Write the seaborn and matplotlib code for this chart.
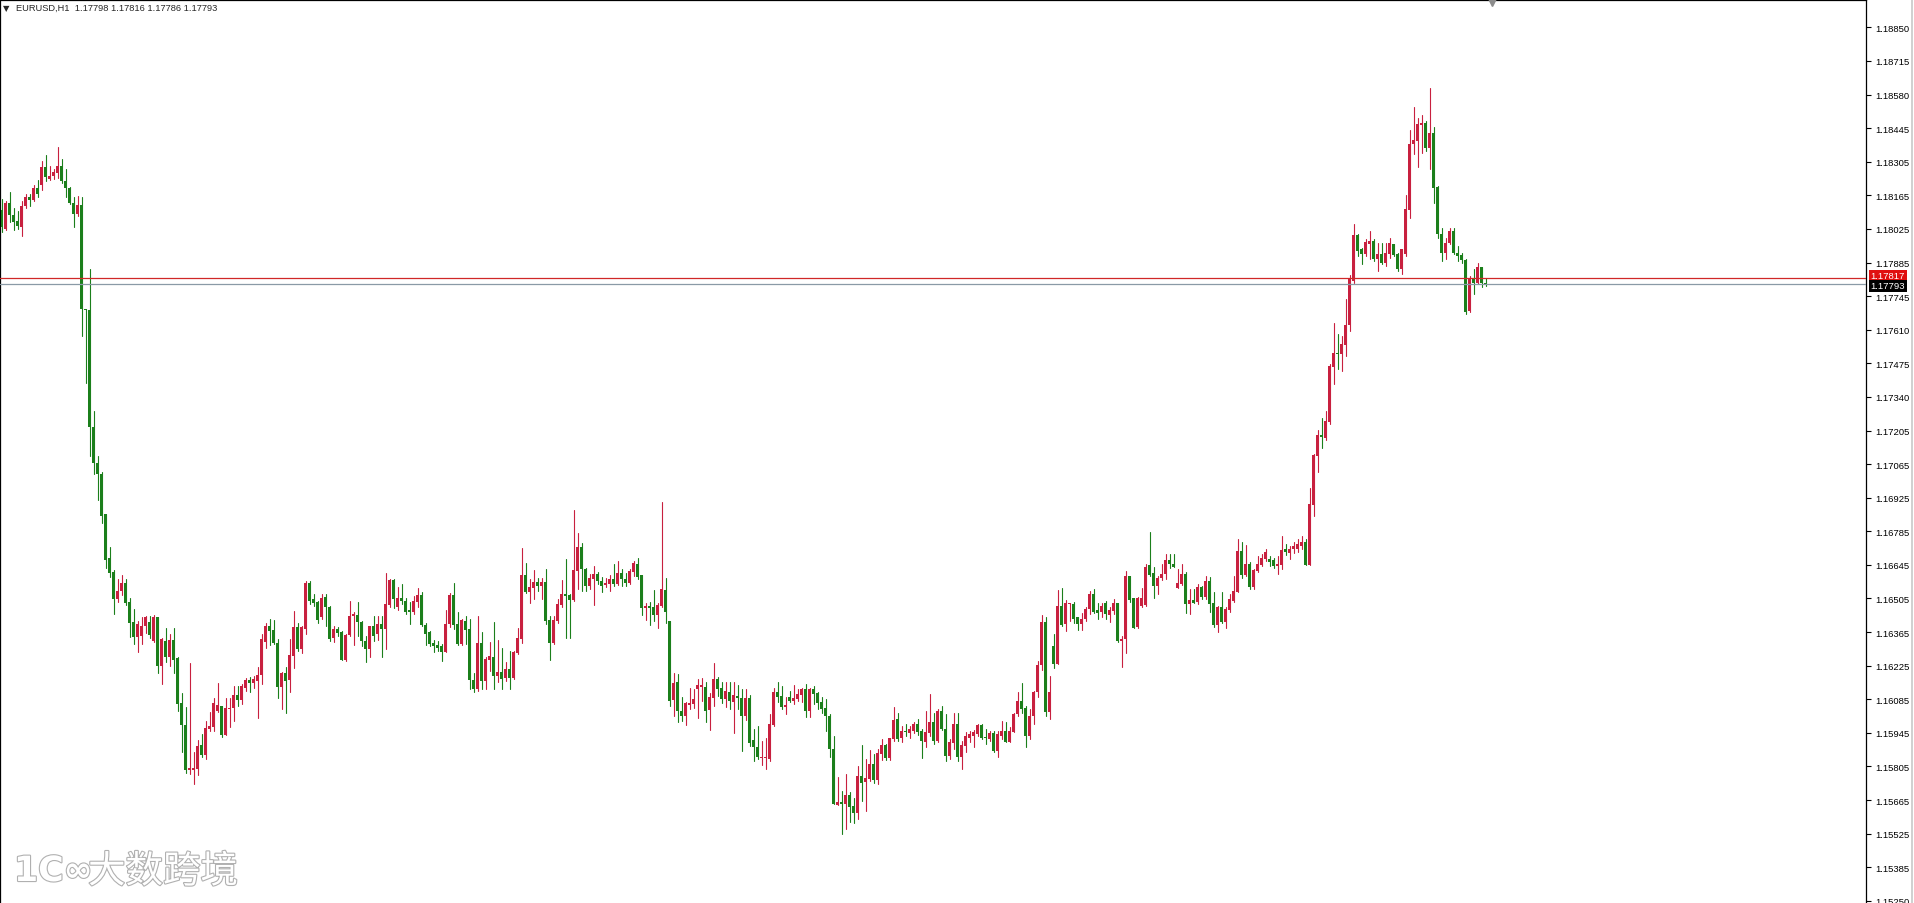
import numpy as np
import pandas as pd
import matplotlib
matplotlib.use("Agg")
import matplotlib.pyplot as plt
import matplotlib.patheffects as pe
from matplotlib.transforms import blended_transform_factory
from matplotlib.lines import Line2D
import seaborn as sns

# ---------------- data (EURUSD H1) ----------------
opens = [
1.18099,1.18020,1.18128,1.18078,1.18053,1.18027,1.18114,1.18150,1.18140,1.18189,
1.18200,1.18275,1.18226,1.18236,1.18248,1.18280,1.18215,1.18186,1.18128,1.18082,
1.18117,1.17688,1.17685,1.17202,1.17053,1.17010,1.16844,1.16661,1.16606,1.16495,
1.16527,1.16558,1.16480,1.16400,1.16336,1.16343,1.16382,1.16400,
1.16322,1.16421,1.16219,1.16322,1.16253,1.16325,1.16249,1.16064,1.15974,1.15789,
1.15789,1.15793,1.15893,1.15852,1.15958,1.15968,1.16031,1.16054,1.15935,1.16040,
1.16046,1.16098,1.16079,1.16126,1.16160,1.16147,1.16157,1.16182,1.16315,1.16381,
1.16367,1.16312,1.16132,1.16187,1.16160,1.16260,1.16377,
1.16287,1.16370,1.16562,1.16496,1.16482,1.16418,1.16503,1.16459,1.16333,1.16370,
1.16356,1.16244,1.16347,1.16422,1.16428,1.16401,1.16322,1.16287,1.16384,1.16349,
1.16391,1.16370,1.16469,1.16572,1.16462,1.16500,1.16487,1.16448,1.16439,1.16482,
1.16511,1.16386,1.16359,1.16312,1.16304,1.16299,1.16277,
1.16391,1.16509,1.16390,1.16308,1.16402,1.16369,1.16161,1.16122,1.16312,1.16157,
1.16243,1.16253,1.16177,1.16194,1.16170,1.16207,1.16170,1.16271,1.16328,1.16592,
1.16523,1.16540,1.16564,1.16546,1.16564,1.16406,1.16312,1.16404,1.16471,1.16513,
1.16509,1.16489,1.16610,1.16710,1.16617,1.16548,1.16578,1.16599,
1.16568,1.16551,1.16557,1.16578,1.16557,1.16600,1.16578,1.16559,1.16606,1.16637,
1.16592,1.16455,1.16465,1.16459,1.16427,1.16465,1.16530,1.16402,1.16078,1.16152,
1.16033,1.16012,1.16056,1.16060,1.16122,1.16132,1.16133,1.16037,1.16088,1.16163,
1.16129,1.16081,1.16111,1.16070,1.16095,1.16088,1.16012,
1.16088,1.15912,1.15886,1.15838,1.15837,1.15834,1.15974,1.16109,1.16095,1.16047,
1.16092,1.16074,1.16081,1.16098,1.16122,1.16033,1.16122,1.16105,1.16068,1.16043,
1.16013,1.15875,1.15646,1.15656,1.15649,1.15686,1.15639,1.15612,1.15765,1.15741,
1.15752,1.15814,1.15749,1.15855,1.15892,1.15837,1.15919,1.15999,
1.15923,1.15951,1.15941,1.15951,1.15978,1.15951,1.15906,1.15941,1.15985,1.15910,
1.16033,1.15960,1.15845,1.15900,1.15978,1.15841,1.15889,1.15923,1.15930,1.15937,
1.15976,1.15926,1.15919,1.15941,1.15868,1.15930,1.15951,1.15906,1.15947,1.16020,
1.16074,1.16043,1.15930,1.16010,1.16109,1.16220,1.16400,1.16030,
1.16301,1.16225,1.16466,1.16390,1.16472,1.16475,1.16418,1.16393,1.16413,1.16452,
1.16514,1.16448,1.16442,1.16479,1.16429,1.16445,1.16479,1.16319,1.16328,1.16589,
1.16497,1.16379,1.16466,1.16468,1.16633,1.16603,1.16548,1.16580,1.16596,1.16654,
1.16640,1.16541,1.16555,1.16599,1.16475,1.16489,1.16482,
1.16542,1.16501,1.16569,1.16476,1.16387,1.16459,1.16400,1.16450,1.16487,1.16524,
1.16693,1.16593,1.16638,1.16542,1.16610,1.16634,1.16659,1.16659,1.16656,1.16631,
1.16634,1.16700,1.16683,1.16700,1.16700,1.16711,1.16730,1.16635,1.16881,1.17084,
1.17169,1.17156,1.17224,1.17452,1.17510,1.17503,1.17540,
1.17622,1.17805,1.17994,1.17935,1.17915,1.17959,1.17970,1.17894,1.17915,1.17880,
1.17915,1.17959,1.17915,1.17853,1.17915,1.18096,1.18371,1.18382,1.18448,1.18457,
1.18354,1.18416,1.18192,1.17997,1.17922,1.17963,1.18011,1.17922,1.17912,1.17890,
1.17681,1.17815,1.17798,1.17863,1.17798]

highs = [
1.18143,1.18135,1.18172,1.18107,1.18092,1.18135,1.18164,1.18164,1.18200,1.18222,
1.18299,1.18323,1.18280,1.18265,1.18356,1.18309,1.18265,1.18193,1.18150,1.18157,
1.18150,1.17688,1.17854,1.17270,1.17082,1.17017,1.16844,1.16707,1.16613,1.16577,
1.16592,1.16577,1.16498,1.16454,1.16404,1.16418,1.16425,1.16425,
1.16427,1.16421,1.16335,1.16373,1.16349,1.16373,1.16253,1.16106,1.16047,1.16230,
1.15862,1.15914,1.15937,1.15992,1.16027,1.16084,1.16146,1.16054,1.16088,1.16088,
1.16134,1.16136,1.16143,1.16167,1.16171,1.16178,1.16212,1.16349,1.16395,1.16411,
1.16408,1.16329,1.16195,1.16212,1.16329,1.16445,1.16397,
1.16384,1.16569,1.16569,1.16514,1.16487,1.16514,1.16514,1.16466,1.16381,1.16377,
1.16363,1.16349,1.16487,1.16439,1.16480,1.16404,1.16342,1.16384,1.16425,1.16425,
1.16425,1.16603,1.16576,1.16576,1.16542,1.16555,1.16500,1.16482,1.16507,1.16539,
1.16521,1.16397,1.16363,1.16325,1.16322,1.16308,1.16450,
1.16520,1.16562,1.16441,1.16411,1.16424,1.16411,1.16191,1.16424,1.16356,1.16253,
1.16317,1.16401,1.16324,1.16290,1.16235,1.16280,1.16280,1.16376,1.16706,1.16641,
1.16578,1.16614,1.16582,1.16582,1.16617,1.16424,1.16424,1.16493,1.16573,1.16660,
1.16513,1.16861,1.16768,1.16724,1.16621,1.16596,1.16630,1.16606,
1.16586,1.16582,1.16592,1.16637,1.16651,1.16617,1.16603,1.16617,1.16651,1.16665,
1.16592,1.16479,1.16482,1.16530,1.16476,1.16894,1.16582,1.16402,1.16188,1.16184,
1.16092,1.16070,1.16129,1.16125,1.16166,1.16170,1.16152,1.16108,1.16229,1.16174,
1.16152,1.16152,1.16152,1.16152,1.16139,1.16125,1.16125,
1.16100,1.15958,1.15971,1.15910,1.15923,1.16020,1.16129,1.16150,1.16136,1.16092,
1.16116,1.16139,1.16122,1.16129,1.16143,1.16129,1.16136,1.16109,1.16092,1.16081,
1.16020,1.15928,1.15759,1.15704,1.15772,1.15697,1.15672,1.15807,1.15892,1.15834,
1.15873,1.15855,1.15875,1.15917,1.15896,1.15923,1.16047,1.16026,
1.15971,1.15978,1.15971,1.15988,1.15999,1.15960,1.16033,1.16102,1.16026,1.16040,
1.16054,1.16020,1.15917,1.16026,1.16026,1.15910,1.15947,1.15951,1.15955,1.15978,
1.15978,1.15958,1.15951,1.15951,1.15951,1.15992,1.15985,1.15965,1.16026,1.16109,
1.16147,1.16054,1.16040,1.16116,1.16240,1.16430,1.16420,1.16177,
1.16349,1.16530,1.16541,1.16489,1.16479,1.16483,1.16420,1.16438,1.16459,1.16527,
1.16534,1.16479,1.16479,1.16486,1.16459,1.16493,1.16479,1.16342,1.16610,1.16589,
1.16500,1.16503,1.16538,1.16640,1.16772,1.16624,1.16589,1.16640,1.16678,1.16678,
1.16678,1.16617,1.16637,1.16607,1.16534,1.16534,1.16555,
1.16549,1.16590,1.16583,1.16521,1.16466,1.16521,1.16459,1.16514,1.16590,1.16741,
1.16730,1.16716,1.16645,1.16617,1.16670,1.16679,1.16700,1.16672,1.16665,1.16670,
1.16755,1.16720,1.16713,1.16727,1.16741,1.16755,1.16741,1.16950,1.17091,1.17191,
1.17242,1.17270,1.17462,1.17631,1.17585,1.17578,1.17732,
1.17830,1.18038,1.18000,1.17942,1.17977,1.18011,1.17977,1.17960,1.17960,1.17960,
1.17981,1.17959,1.17922,1.17935,1.18158,1.18426,1.18522,1.18478,1.18487,1.18464,
1.18599,1.18439,1.18196,1.18022,1.17981,1.18025,1.18025,1.17949,1.17922,1.17894,
1.17826,1.17853,1.17880,1.17863,1.17816]

lows = [
1.18006,1.18013,1.18049,1.18016,1.18020,1.17991,1.18107,1.18114,1.18135,1.18150,
1.18179,1.18215,1.18222,1.18226,1.18229,1.18208,1.18150,1.18121,1.18027,1.18071,
1.17580,1.17385,1.17082,1.17010,1.16902,1.16808,1.16620,1.16584,1.16433,1.16483,
1.16512,1.16469,1.16339,1.16310,1.16274,1.16310,1.16353,1.16335,
1.16315,1.16191,1.16143,1.16233,1.16219,1.16189,1.16033,1.15865,1.15777,1.15773,
1.15731,1.15768,1.15841,1.15834,1.15948,1.15951,1.16027,1.15924,1.15935,1.15965,
1.15992,1.16051,1.16061,1.16116,1.16112,1.16127,1.16002,1.16143,1.16292,1.16304,
1.16308,1.16086,1.16040,1.16024,1.16112,1.16208,1.16281,
1.16271,1.16349,1.16473,1.16466,1.16397,1.16411,1.16384,1.16322,1.16315,1.16342,
1.16244,1.16239,1.16342,1.16304,1.16342,1.16299,1.16235,1.16257,1.16322,1.16326,
1.16253,1.16287,1.16459,1.16455,1.16450,1.16473,1.16432,1.16391,1.16432,1.16462,
1.16381,1.16305,1.16301,1.16277,1.16281,1.16239,1.16274,
1.16380,1.16369,1.16303,1.16303,1.16308,1.16122,1.16110,1.16115,1.16125,1.16122,
1.16198,1.16122,1.16152,1.16125,1.16157,1.16125,1.16163,1.16266,1.16312,1.16518,
1.16479,1.16496,1.16527,1.16493,1.16390,1.16243,1.16308,1.16394,1.16459,1.16335,
1.16335,1.16486,1.16534,1.16527,1.16527,1.16534,1.16468,1.16555,
1.16523,1.16545,1.16527,1.16548,1.16551,1.16548,1.16548,1.16555,1.16589,1.16578,
1.16427,1.16408,1.16386,1.16404,1.16376,1.16463,1.16397,1.16051,1.16012,1.15989,
1.15992,1.15975,1.16040,1.16043,1.16005,1.16074,1.15989,1.15955,1.16053,1.16095,
1.16064,1.16047,1.16040,1.15941,1.16040,1.15868,1.15996,
1.15890,1.15827,1.15834,1.15809,1.15793,1.15827,1.15971,1.16068,1.16040,1.16020,
1.16068,1.16061,1.16074,1.16068,1.16006,1.16006,1.16061,1.16040,1.16026,1.15951,
1.15841,1.15649,1.15646,1.15525,1.15546,1.15573,1.15571,1.15587,1.15663,1.15621,
1.15745,1.15735,1.15731,1.15831,1.15831,1.15831,1.15910,1.15910,
1.15903,1.15928,1.15923,1.15941,1.15933,1.15837,1.15886,1.15930,1.15896,1.15906,
1.15955,1.15827,1.15834,1.15875,1.15827,1.15793,1.15862,1.15903,1.15882,1.15930,
1.15917,1.15896,1.15910,1.15862,1.15841,1.15917,1.15903,1.15903,1.15944,1.16013,
1.16026,1.15882,1.15917,1.15978,1.16090,1.16200,1.16010,1.16000,
1.16209,1.16225,1.16383,1.16363,1.16404,1.16397,1.16365,1.16365,1.16404,1.16434,
1.16438,1.16411,1.16418,1.16411,1.16401,1.16434,1.16315,1.16214,1.16273,1.16483,
1.16374,1.16374,1.16459,1.16466,1.16589,1.16500,1.16514,1.16571,1.16576,1.16621,
1.16624,1.16541,1.16552,1.16438,1.16434,1.16479,1.16475,
1.16494,1.16494,1.16442,1.16377,1.16359,1.16395,1.16373,1.16439,1.16483,1.16521,
1.16579,1.16590,1.16535,1.16535,1.16606,1.16631,1.16652,1.16631,1.16620,1.16597,
1.16617,1.16675,1.16659,1.16683,1.16689,1.16702,1.16635,1.16635,1.16837,1.17018,
1.17118,1.17150,1.17215,1.17379,1.17441,1.17434,1.17496,
1.17600,1.17798,1.17908,1.17874,1.17908,1.17894,1.17887,1.17846,1.17874,1.17867,
1.17901,1.17908,1.17846,1.17835,1.17908,1.18066,1.18327,1.18275,1.18334,1.18340,
1.18265,1.18128,1.17983,1.17887,1.17894,1.17959,1.17915,1.17887,1.17880,1.17668,
1.17679,1.17753,1.17794,1.17780,1.17786]

closes = [
1.18027,1.18128,1.18078,1.18049,1.18030,1.18114,1.18150,1.18140,1.18186,1.18164,
1.18275,1.18232,1.18239,1.18254,1.18280,1.18218,1.18186,1.18128,1.18082,1.18118,
1.17688,1.17684,1.17202,1.17053,1.17010,1.16837,1.16656,1.16603,1.16495,1.16527,
1.16558,1.16476,1.16397,1.16339,1.16389,1.16382,1.16418,1.16345,
1.16421,1.16219,1.16329,1.16253,1.16325,1.16244,1.16061,1.15974,1.15789,1.15796,
1.15796,1.15889,1.15851,1.15961,1.15972,1.16065,1.16057,1.15933,1.16046,1.16046,
1.16098,1.16079,1.16134,1.16160,1.16147,1.16164,1.16182,1.16329,1.16381,1.16362,
1.16311,1.16132,1.16187,1.16157,1.16263,1.16377,1.16287,
1.16377,1.16562,1.16487,1.16476,1.16408,1.16500,1.16459,1.16331,1.16370,1.16353,
1.16244,1.16345,1.16422,1.16434,1.16400,1.16322,1.16287,1.16384,1.16342,1.16391,
1.16370,1.16473,1.16572,1.16493,1.16500,1.16487,1.16441,1.16439,1.16487,1.16511,
1.16386,1.16348,1.16308,1.16301,1.16292,1.16277,1.16391,
1.16509,1.16386,1.16308,1.16406,1.16367,1.16161,1.16122,1.16312,1.16157,1.16246,
1.16260,1.16177,1.16194,1.16166,1.16207,1.16170,1.16276,1.16332,1.16592,1.16523,
1.16544,1.16564,1.16548,1.16564,1.16404,1.16312,1.16406,1.16472,1.16513,1.16507,
1.16489,1.16612,1.16710,1.16617,1.16548,1.16582,1.16599,1.16568,
1.16548,1.16559,1.16575,1.16557,1.16600,1.16575,1.16562,1.16610,1.16641,1.16586,
1.16455,1.16465,1.16455,1.16427,1.16468,1.16537,1.16441,1.16074,1.16147,1.16033,
1.16012,1.16064,1.16064,1.16081,1.16139,1.16139,1.16033,1.16092,1.16163,1.16125,
1.16081,1.16115,1.16074,1.16097,1.16088,1.16012,1.16085,
1.15900,1.15886,1.15841,1.15844,1.15841,1.15978,1.16109,1.16092,1.16047,1.16057,
1.16074,1.16084,1.16102,1.16122,1.16033,1.16122,1.16102,1.16065,1.16040,1.16010,
1.15875,1.15649,1.15658,1.15649,1.15686,1.15635,1.15612,1.15765,1.15735,1.15755,
1.15814,1.15749,1.15859,1.15892,1.15837,1.15923,1.15995,1.15919,
1.15951,1.15944,1.15958,1.15978,1.15947,1.15910,1.15944,1.15985,1.15910,1.16033,
1.15958,1.15845,1.15903,1.15978,1.15841,1.15892,1.15928,1.15937,1.15947,1.15974,
1.15923,1.15921,1.15941,1.15868,1.15937,1.15951,1.15906,1.15951,1.16020,1.16074,
1.16040,1.15930,1.16013,1.16109,1.16220,1.16400,1.16030,1.16110,
1.16225,1.16466,1.16387,1.16479,1.16475,1.16413,1.16393,1.16413,1.16452,1.16516,
1.16442,1.16438,1.16466,1.16431,1.16448,1.16479,1.16319,1.16328,1.16589,1.16489,
1.16376,1.16497,1.16497,1.16626,1.16593,1.16548,1.16582,1.16599,1.16654,1.16637,
1.16626,1.16562,1.16599,1.16475,1.16489,1.16479,1.16544,
1.16501,1.16569,1.16473,1.16387,1.16459,1.16400,1.16453,1.16496,1.16528,1.16693,
1.16593,1.16638,1.16542,1.16615,1.16638,1.16661,1.16689,1.16645,1.16628,1.16638,
1.16697,1.16686,1.16702,1.16711,1.16720,1.16730,1.16635,1.16885,1.17087,1.17169,
1.17160,1.17228,1.17455,1.17507,1.17503,1.17544,1.17622,
1.17812,1.17994,1.17929,1.17918,1.17967,1.17970,1.17894,1.17918,1.17880,1.17922,
1.17960,1.17912,1.17853,1.17935,1.18100,1.18371,1.18384,1.18450,1.18457,1.18354,
1.18416,1.18189,1.17997,1.17922,1.17963,1.18011,1.17922,1.17908,1.17890,1.17675,
1.17819,1.17798,1.17863,1.17798,1.17793]

ytick_labels = ["1.18850", "1.18715", "1.18580", "1.18445", "1.18305", "1.18165",
                "1.18025", "1.17885", "1.17745", "1.17610", "1.17475", "1.17340",
                "1.17205", "1.17065", "1.16925", "1.16785", "1.16645", "1.16505",
                "1.16365", "1.16225", "1.16085", "1.15945", "1.15805", "1.15665",
                "1.15525", "1.15385", "1.15250"]
ask_price = 1.17817
bid_price = 1.17793
title_text = "EURUSD,H1  1.17798 1.17816 1.17786 1.17793"
watermark = "大数跨境"
logo_text = "1C\u221E"

# ---------------- styling ----------------
UP = "#C8203F"      # rising candles (crimson)
DOWN = "#1B7F1B"    # falling candles (green)

sns.set_style("white")
plt.rcParams["font.family"] = ["Liberation Sans", "DejaVu Sans", "Noto Sans CJK SC"]

n = min(len(opens), len(highs), len(lows), len(closes))
o = np.array(opens[:n]); h = np.array(highs[:n]); l = np.array(lows[:n]); c = np.array(closes[:n])
h = np.maximum(h, np.maximum(o, c))
l = np.minimum(l, np.minimum(o, c))
t = np.arange(n)
dirs = np.where(c >= o, "up", "down")

W, H = 1915, 904
fig = plt.figure(figsize=(W / 100, H / 100), dpi=100)
fig.patch.set_facecolor("white")
ax_right = 1866 / W
ax = fig.add_axes([0.0, 0.0, ax_right, 1.0 - 0.5 / H])

y_top, y_bot = 1.18965, 1.15241
ax.set_ylim(y_bot, y_top)
ax.set_xlim(-0.5, 466.0)

# wicks through seaborn (one unit per candle)
wick = pd.DataFrame({
    "t": np.repeat(t, 2),
    "price": np.column_stack([l, h]).ravel(),
    "cid": np.repeat(t, 2),
    "dir": np.repeat(dirs, 2),
})
sns.lineplot(data=wick, x="t", y="price", units="cid", estimator=None,
             hue="dir", palette={"up": UP, "down": DOWN}, linewidth=0.8,
             legend=False, sort=False, ax=ax, zorder=2)

# bodies
px = (y_top - y_bot) / H
bottoms = np.minimum(o, c)
heights = np.maximum(np.abs(c - o), px)
colors = np.where(dirs == "up", UP, DOWN)
ax.bar(t, heights, bottom=bottoms, width=0.75, color=colors, linewidth=0, zorder=3)

# bid / ask lines
ax.axhline(ask_price, color="#D02828", lw=0.9, zorder=4)
ax.axhline(bid_price, color="#8A9AA6", lw=0.9, zorder=4)

# y axis on the right with MT4-style labels
step = (1.18850 - 1.15250) / (len(ytick_labels) - 1)
ypos = [1.18850 - i * step for i in range(len(ytick_labels))]
ax.yaxis.tick_right()
ax.set_yticks(ypos)
ax.set_yticklabels(ytick_labels)
ax.tick_params(axis="y", direction="out", length=3.5, width=0.8, colors="black",
               labelsize=6.8, pad=3)
ax.set_xticks([])
ax.set_xlabel("")
ax.set_ylabel("")
for side in ["left", "right", "top"]:
    ax.spines[side].set_visible(True)
    ax.spines[side].set_color("black")
    ax.spines[side].set_linewidth(0.9)
ax.spines["bottom"].set_visible(False)

# price tags on the axis
trans = blended_transform_factory(ax.transAxes, ax.transData)
ax.annotate("1.17817", xy=(1.0, ask_price), xycoords=trans, xytext=(3.2, 1.5),
            textcoords="offset points", fontsize=6.8, color="white", va="center",
            ha="left", annotation_clip=False, zorder=6,
            bbox=dict(boxstyle="square,pad=0.18", fc="#E01010", ec="none"))
ax.annotate("1.17793", xy=(1.0, bid_price), xycoords=trans, xytext=(3.2, -1.5),
            textcoords="offset points", fontsize=6.8, color="white", va="center",
            ha="left", annotation_clip=False, zorder=7,
            bbox=dict(boxstyle="square,pad=0.18", fc="black", ec="none"))

# title line
ax.text(3 / 1866, 1 - 8 / H, "\u25BC", transform=ax.transAxes, fontsize=6,
        va="center", ha="left", family=["DejaVu Sans"])
ax.text(16 / 1866, 1 - 8 / H, title_text, transform=ax.transAxes, fontsize=6.7,
        va="center", ha="left")

# chart-shift marker at the top
ax.plot([372.5], [y_top], marker="v", color="#8C8C8C", ms=9, clip_on=False, zorder=8)

# outer frame line at far right
fig.add_artist(Line2D([1912 / W, 1912 / W], [0, 1], color="#C8C8C8", lw=1.2))

# watermark
wm_effects = [pe.withStroke(linewidth=1.6, foreground="#B0B0B0")]
fig.text(14 / W, 1 - 872 / H, logo_text, fontsize=25, color="white",
         family=["DejaVu Sans"], fontweight="bold", va="center", ha="left",
         zorder=10, path_effects=wm_effects)
fig.text(88 / W, 1 - 873 / H, watermark, fontsize=27, color="white",
         family=["Noto Sans CJK SC"], va="center", ha="left", zorder=10,
         path_effects=wm_effects)

fig.savefig("out.png", dpi=100, facecolor="white")
